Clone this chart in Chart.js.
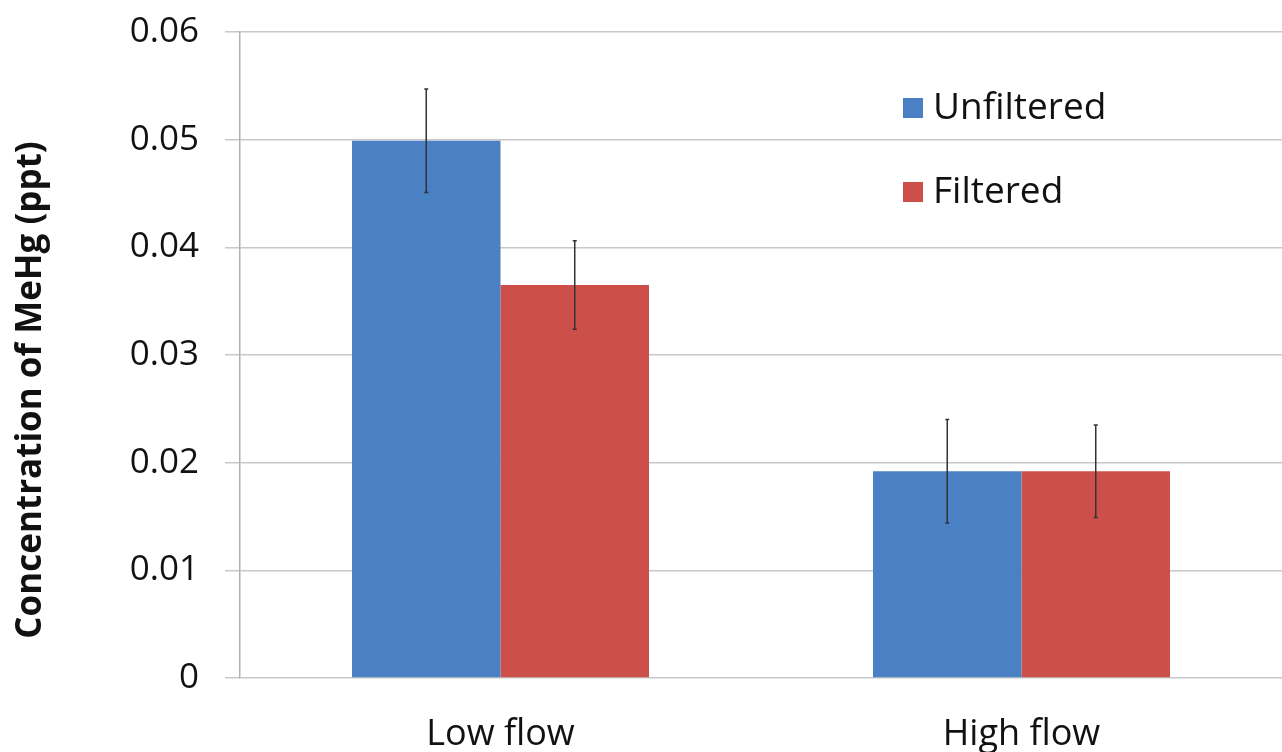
<!DOCTYPE html>
<html>
<head>
<meta charset="utf-8">
<script src="https://cdn.jsdelivr.net/npm/chart.js@4"></script>
<style>
  html, body { margin: 0; padding: 0; background: #ffffff; }
  #wrap { width: 1282px; height: 752px; }
</style>
</head>
<body>
<div id="wrap"><canvas id="chart" width="1282" height="752"></canvas></div>
<script>
const categories = ['Low flow', 'High flow'];
const unfiltered = [0.0499, 0.0192];
const filtered = [0.0365, 0.0192];
const unfilteredErr = [0.0048, 0.0048];
const filteredErr = [0.0041, 0.0043];
const yTicks = [0, 0.01, 0.02, 0.03, 0.04, 0.05, 0.06];
const yTitle = 'Concentration of MeHg (ppt)';

const blue = '#4a80c4';
const red = '#cd4f49';
const fontFamily = '"Open Sans", "DejaVu Sans", sans-serif';

// error bars drawn through the y scale
const errorBars = {
    id: 'errorBars',
    afterDatasetsDraw(chart) {
        const ctx = chart.ctx;
        const y = chart.scales.y;
        const errs = [unfilteredErr, filteredErr];
        ctx.save();
        ctx.strokeStyle = '#333333';
        ctx.lineWidth = 1.5;
        chart.data.datasets.forEach((ds, i) => {
            const meta = chart.getDatasetMeta(i);
            meta.data.forEach((bar, j) => {
                const v = ds.data[j];
                const e = errs[i][j];
                const top = y.getPixelForValue(v + e);
                const bot = y.getPixelForValue(v - e);
                ctx.beginPath();
                ctx.moveTo(bar.x, top);
                ctx.lineTo(bar.x, bot);
                ctx.moveTo(bar.x - 2, top);
                ctx.lineTo(bar.x + 2, top);
                ctx.moveTo(bar.x - 2, bot);
                ctx.lineTo(bar.x + 2, bot);
                ctx.stroke();
            });
        });
        ctx.restore();
    }
};

// legend inside the plot (top right) and the y title, which sits a bit below centre
const extras = {
    id: 'extras',
    afterDraw(chart) {
        const ctx = chart.ctx;
        const x0 = 903;
        const rows = [108, 192];
        ctx.save();
        ctx.font = '37px ' + fontFamily;
        ctx.textBaseline = 'middle';
        chart.data.datasets.forEach((ds, i) => {
            ctx.fillStyle = ds.backgroundColor;
            ctx.fillRect(x0, rows[i] - 10, 20, 20);
            ctx.fillStyle = '#111111';
            ctx.fillText(ds.label, x0 + 30, rows[i]);
        });
        ctx.restore();

        ctx.save();
        ctx.translate(31, 390);
        ctx.rotate(-Math.PI / 2);
        ctx.font = 'bold 35px ' + fontFamily;
        ctx.textAlign = 'center';
        ctx.textBaseline = 'middle';
        ctx.fillStyle = '#111111';
        ctx.fillText(yTitle, 0, 0);
        ctx.restore();
    }
};

const data = {
    labels: categories,
    datasets: [{
        label: 'Unfiltered',
        data: unfiltered,
        backgroundColor: blue,
        borderWidth: 0,
    },
    {
        label: 'Filtered',
        data: filtered,
        backgroundColor: red,
        borderWidth: 0,
    }]
};

const options = {
    responsive: false,
    animation: false,
    layout: { padding: { top: 32, right: 0, bottom: 0, left: 0 } },
    plugins: {
        legend: { display: false },
        tooltip: { enabled: false }
    },
    datasets: {
        bar: { categoryPercentage: 0.57, barPercentage: 1.0 }
    },
    scales: {
        x: {
            grid: { display: false },
            border: { display: false },
            ticks: {
                color: '#111111',
                font: { family: fontFamily, size: 36 },
                padding: 27
            },
            afterFit: s => { s.height = 74; }
        },
        y: {
            min: 0,
            max: 0.06,
            afterBuildTicks: s => { s.ticks = yTicks.map(v => ({ value: v })); },
            ticks: {
                color: '#111111',
                font: { family: fontFamily, size: 35 },
                padding: 26,
                callback: v => String(v)
            },
            grid: {
                color: '#c8c8c8',
                lineWidth: 1.5,
                tickLength: 15
            },
            border: { display: true, color: '#b0b0b0', width: 1.5 },
            afterFit: s => {
                s.width = 240;
                s.paddingTop = 0;
                s.paddingBottom = 0;
            }
        }
    }
};

new Chart(document.getElementById('chart').getContext('2d'), {
    type: 'bar',
    data: data,
    options: options,
    plugins: [errorBars, extras]
});
</script>
</body>
</html>
